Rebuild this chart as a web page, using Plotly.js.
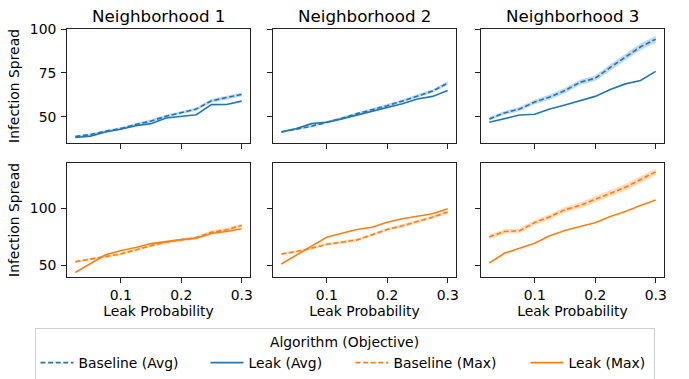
<!DOCTYPE html>
<html><head><meta charset="utf-8">
<script src="https://cdn.plot.ly/plotly-3.0.1.min.js"></script>
<style>html,body{margin:0;padding:0;background:#fff}#chart{width:689px;height:379px}</style>
</head><body><div id="chart"></div>
<script>
const leakProb = [0.025,0.05,0.075,0.1,0.125,0.15,0.175,0.2,0.225,0.25,0.275,0.3];
const neighborhoods = ["Neighborhood 1","Neighborhood 2","Neighborhood 3"];
const seriesNames = ["Baseline (Avg)","Leak (Avg)","Baseline (Max)","Leak (Max)"];

// Top row: Avg objective
const n1AvgBase = [38.9,40.0,41.9,43.4,45.7,47.7,50.4,52.3,54.5,59.2,60.9,62.8];
const n1AvgLeak = [38.3,39.1,41.5,43.0,45.0,46.2,49.4,50.4,51.3,57.0,57.1,59.0];
const n2AvgBase = [41.5,43.2,44.7,47.0,49.2,51.9,54.1,56.4,59.0,62.0,64.7,69.2];
const n2AvgLeak = [41.5,43.4,46.2,47.0,48.9,51.1,53.2,55.3,57.5,60.2,61.7,65.0];
const n3AvgBase = [48.9,52.3,54.5,58.5,61.3,65.0,69.7,72.0,78.2,83.8,89.9,94.2];
const n3AvgLeak = [47.0,49.1,51.1,51.5,54.5,56.8,59.2,61.7,65.6,68.8,70.7,75.9];
// Bottom row: Max objective
const n1MaxBase = [52.9,55.0,57.4,59.7,63.2,67.0,70.0,72.0,74.1,78.8,80.9,84.7];
const n1MaxLeak = [43.5,51.2,59.0,62.6,65.3,68.8,70.6,72.3,73.5,77.6,79.4,81.8];
const n2MaxBase = [59.7,61.8,64.7,68.2,70.0,72.0,76.5,81.2,84.4,88.2,92.0,96.5];
const n2MaxLeak = [50.9,58.8,66.8,74.4,77.9,81.2,83.2,87.6,90.6,92.6,95.0,99.4];
const n3MaxBase = [74.7,79.4,80.0,87.3,92.3,98.5,102.3,107.6,112.9,118.2,125.0,131.7];
const n3MaxLeak = [51.8,60.3,64.7,69.1,75.6,80.3,83.8,87.0,92.6,97.0,102.3,107.0];
// Half-width of the baseline confidence band
const n1AvgBand = [0.6,0.6,0.7,0.7,0.8,0.8,0.8,0.9,0.9,1.0,1.0,1.1];
const n2AvgBand = [0.6,0.6,0.7,0.7,0.8,0.8,0.8,0.9,0.9,1.0,1.0,1.1];
const n3AvgBand = [1.0,1.1,1.2,1.3,1.4,1.5,1.5,1.6,1.7,1.8,1.9,2.0];
const n1MaxBand = [1.0,1.0,1.1,1.1,1.2,1.2,1.3,1.3,1.4,1.5,1.5,1.6];
const n2MaxBand = [1.0,1.0,1.1,1.1,1.2,1.2,1.3,1.3,1.4,1.5,1.5,1.6];
const n3MaxBand = [2.0,2.0,2.1,2.2,2.3,2.4,2.5,2.6,2.7,2.8,2.9,3.0];

const BLUE = "#1f77b4", ORANGE = "#ff7f0e";
const FONT = "DejaVu Sans, sans-serif";
const FS = 13.9;

const panels = [
  {ax:1, base:n1AvgBase, leak:n1AvgLeak, band:n1AvgBand, c:BLUE, fill:"rgba(31,119,180,0.28)", names:[seriesNames[0],seriesNames[1]], legend:true},
  {ax:2, base:n2AvgBase, leak:n2AvgLeak, band:n2AvgBand, c:BLUE, fill:"rgba(31,119,180,0.28)", names:[seriesNames[0],seriesNames[1]], legend:false},
  {ax:3, base:n3AvgBase, leak:n3AvgLeak, band:n3AvgBand, c:BLUE, fill:"rgba(31,119,180,0.28)", names:[seriesNames[0],seriesNames[1]], legend:false},
  {ax:4, base:n1MaxBase, leak:n1MaxLeak, band:n1MaxBand, c:ORANGE, fill:"rgba(255,127,14,0.28)", names:[seriesNames[2],seriesNames[3]], legend:true},
  {ax:5, base:n2MaxBase, leak:n2MaxLeak, band:n2MaxBand, c:ORANGE, fill:"rgba(255,127,14,0.28)", names:[seriesNames[2],seriesNames[3]], legend:false},
  {ax:6, base:n3MaxBase, leak:n3MaxLeak, band:n3MaxBand, c:ORANGE, fill:"rgba(255,127,14,0.28)", names:[seriesNames[2],seriesNames[3]], legend:false},
];

// legend entry widths (px) so entries are spaced like the reference
const legendWidths = {"Baseline (Avg)":122, "Leak (Avg)":97, "Baseline (Max)":127, "Leak (Max)":80};
const legendOrder = {"Baseline (Avg)":1,"Leak (Avg)":2,"Baseline (Max)":3,"Leak (Max)":4};

const traces = [];
panels.forEach(p => {
  const xa = p.ax === 1 ? "x" : "x" + p.ax;
  const ya = p.ax === 1 ? "y" : "y" + p.ax;
  const upper = p.base.map((v,i) => v + p.band[i]);
  const lower = p.base.map((v,i) => v - p.band[i]);
  traces.push({x: leakProb.concat(leakProb.slice().reverse()), y: upper.concat(lower.slice().reverse()),
    xaxis: xa, yaxis: ya, type: "scatter", mode: "lines", fill: "toself", fillcolor: p.fill,
    line: {width: 0}, showlegend: false, hoverinfo: "skip"});
  traces.push({x: leakProb, y: p.base, xaxis: xa, yaxis: ya, type: "scatter", mode: "lines",
    name: p.names[0], legendrank: legendOrder[p.names[0]], legendwidth: legendWidths[p.names[0]], showlegend: p.legend,
    line: {color: p.c, width: 1.6, dash: "5px,2.6px"}});
  traces.push({x: leakProb, y: p.leak, xaxis: xa, yaxis: ya, type: "scatter", mode: "lines",
    name: p.names[1], legendrank: legendOrder[p.names[1]], legendwidth: legendWidths[p.names[1]], showlegend: p.legend,
    line: {color: p.c, width: 1.6}});
});

const W = 689, H = 379;
const colPx = [[67,250],[273,456],[481,664]];
const rowPx = [[29,143],[163,277]];
const xd = c => [colPx[c][0]/W, colPx[c][1]/W];
const yd = r => [(H-rowPx[r][1])/H, (H-rowPx[r][0])/H];

const tickFont = {family: FONT, size: FS, color: "#000"};
const baseAxis = {showgrid: false, zeroline: false, showline: true, linecolor: "#222", linewidth: 1,
  mirror: true, ticks: "outside", ticklen: 4.9, tickwidth: 1, tickcolor: "#222", tickfont: tickFont, automargin: false};

const layout = {
  width: W, height: H, margin: {l:0, r:0, t:0, b:0, autoexpand: false}, paper_bgcolor: "#fff", plot_bgcolor: "#fff",
  font: {family: FONT, color: "#000"},
  showlegend: true,
  legend: {orientation: "h", x: 0.5, xanchor: "center", y: (H-328)/H, yanchor: "top",
    bordercolor: "#d0d0d0", borderwidth: 1, bgcolor: "#fff",
    font: {family: FONT, size: FS, color: "#000"},
    traceorder: "normal", itemwidth: 33,
    title: {text: "Algorithm (Objective)", side: "top center", font: {family: FONT, size: FS, color: "#000"}}},
  annotations: neighborhoods.map((t,c) => ({text: t, xref: "paper", yref: "paper",
    x: (colPx[c][0]+colPx[c][1])/2/W, y: (H-16)/H, xanchor: "center", yanchor: "middle",
    showarrow: false, font: {family: FONT, size: 16.7, color: "#000"}}))
};

const topRange = [35.2, 100];
const botRange = [39.5, 139.5];
for (let r = 0; r < 2; r++) {
  for (let c = 0; c < 3; c++) {
    const n = r*3 + c + 1;
    const xk = n === 1 ? "xaxis" : "xaxis" + n;
    const yk = n === 1 ? "yaxis" : "yaxis" + n;
    const ay = n === 1 ? "y" : "y" + n;
    layout[xk] = Object.assign({}, baseAxis, {domain: xd(c), anchor: ay, range: [0.01125, 0.31375],
      tickvals: [0.1, 0.2, 0.3], ticktext: ["0.1","0.2","0.3"], showticklabels: r === 1,
      title: r === 1 ? {text: "Leak Probability", font: {family: FONT, size: FS, color: "#000"}, standoff: 4} : {text: ""}});
    const ax = n === 1 ? "x" : "x" + n;
    layout[yk] = Object.assign({}, baseAxis, {domain: yd(r), anchor: ax,
      range: r === 0 ? topRange : botRange,
      tickvals: r === 0 ? [50, 75, 100] : [50, 100],
      showticklabels: c === 0, ticklabelstandoff: 2,
      title: c === 0 ? {text: "Infection Spread", font: {family: FONT, size: FS, color: "#000"}, standoff: 6} : {text: ""}});
  }
}

Plotly.newPlot("chart", traces, layout, {displayModeBar: false, staticPlot: true});
</script></body></html>
